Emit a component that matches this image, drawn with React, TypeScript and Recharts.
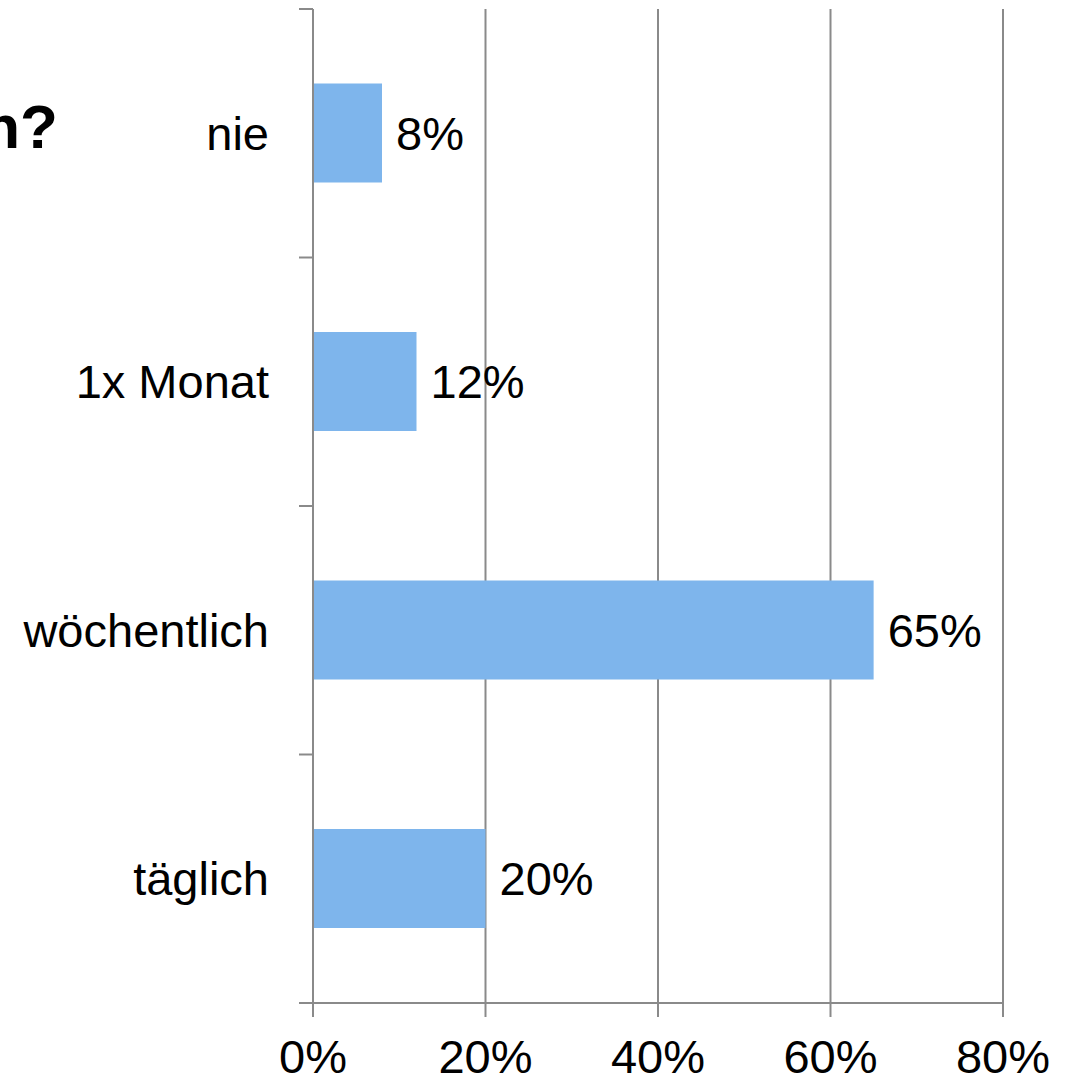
import { BarChart, Bar, XAxis, YAxis, CartesianGrid, LabelList } from 'recharts';

const categories = ['nie', '1x Monat', 'wöchentlich', 'täglich'];
const shares = [8, 12, 65, 20];
const xTicks = [0, 20, 40, 60, 80];

const data = categories.map((name, i) => ({ name, value: shares[i] }));

const font = '"Liberation Sans", Arial, sans-serif';
const grey = '#8a8a8a';
const labelGap = 44;
const markLen = 14;

// category label plus the small marks on the band edges
function CategoryTick(props: any) {
  const { x, y, payload, index, visibleTicksCount } = props;
  const half = payload?.offset ?? 0;
  const axisX = x + labelGap;
  const last = index === visibleTicksCount - 1;
  return (
    <g>
      <line x1={axisX - markLen} x2={axisX} y1={y - half} y2={y - half} stroke={grey} strokeWidth={2} />
      {last && (
        <line x1={axisX - markLen} x2={axisX} y1={y + half} y2={y + half} stroke={grey} strokeWidth={2} />
      )}
      <text x={x} y={y} dy="0.355em" textAnchor="end" fill="#000" fontSize={47} fontFamily={font}>
        {payload.value}
      </text>
    </g>
  );
}

export default function App() {
  return (
    <div style={{ position: 'absolute', left: 0, top: 0, width: 1071, height: 1080, background: '#fff' }}>
      <div
        style={{
          position: 'absolute',
          right: 1071 - 58,
          top: 92,
          fontFamily: font,
          fontWeight: 'bold',
          fontSize: 62,
          lineHeight: '70px',
          whiteSpace: 'nowrap',
          color: '#000',
        }}
      >
        n?
      </div>
      <BarChart
        width={1071}
        height={1080}
        data={data}
        layout="vertical"
        barCategoryGap="30%"
        margin={{ top: 9, right: 68, bottom: 0, left: 0 }}
        style={{ fontFamily: font }}
      >
        <CartesianGrid horizontal={false} stroke={grey} strokeWidth={2} />
        <XAxis
          type="number"
          domain={[0, 80]}
          ticks={xTicks}
          interval={0}
          tickFormatter={(v: number) => `${v}%`}
          axisLine={{ stroke: grey, strokeWidth: 2 }}
          tickLine={{ stroke: grey, strokeWidth: 2 }}
          tickSize={markLen}
          tickMargin={23}
          height={77}
          tick={{ fill: '#000', fontSize: 47, fontFamily: font }}
        />
        <YAxis
          type="category"
          dataKey="name"
          width={313}
          axisLine={{ stroke: grey, strokeWidth: 2 }}
          tickLine={false}
          tickSize={0}
          tickMargin={labelGap}
          interval={0}
          tick={<CategoryTick />}
        />
        <Bar dataKey="value" fill="#7EB5EC" isAnimationActive={false}>
          <LabelList
            dataKey="value"
            position="right"
            offset={14}
            formatter={(v: number) => `${v}%`}
            style={{ fill: '#000', fontSize: 47, fontFamily: font }}
          />
        </Bar>
      </BarChart>
    </div>
  );
}
